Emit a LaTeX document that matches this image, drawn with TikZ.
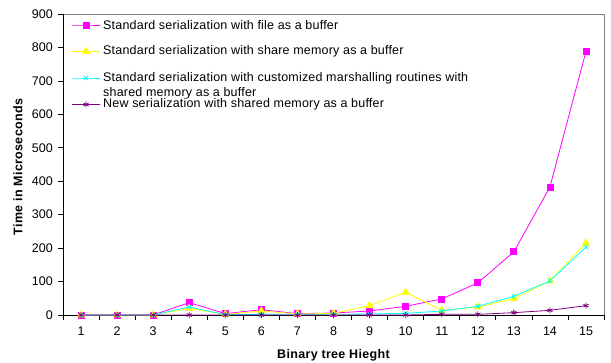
\documentclass[tikz,border=0pt]{standalone}
\usepackage{fontspec}
\setmainfont{Liberation Sans}
\usetikzlibrary{plotmarks}
\definecolor{sfile}{RGB}{255,0,255}
\definecolor{sshare}{RGB}{255,255,0}
\definecolor{scustom}{RGB}{0,255,255}
\definecolor{snew}{RGB}{128,0,128}
\tikzset{
  ticklab/.style={font=\fontsize{12.5}{15}\selectfont, inner sep=0pt},
  legtext/.style={font=\fontsize{12.5}{15}\selectfont\addfontfeature{LetterSpace=1.6}, inner sep=0pt, anchor=west, align=left},
  axtitle/.style={font=\fontsize{12.5}{15}\selectfont\bfseries\addfontfeature{LetterSpace=2.6}, inner sep=0pt},
  series/.style={line width=0.8pt, mark size=3pt, every mark/.append style={solid}},
  sqmark/.style={mark=square*},
  trimark/.style={mark=triangle*, mark size=4pt},
  xmark/.style={mark=x},
  starmark/.style={mark=asterisk},
}
\begin{document}
\begin{tikzpicture}
  \useasboundingbox[fill=white] (0,0) rectangle (611pt,362pt);
  \begin{scope}[x=36.07pt, y=0.3344pt, shift={(44.97pt,47pt)}]
    % plot area and axes
    \draw[gray, line width=0.8pt] (0.5,900) -- (15.5,900) -- (15.5,0);
    \draw[line width=0.8pt] (0.5,900) -- (0.5,0) -- (15.5,0);
    \foreach \v in {0,100,...,900} {
      \draw[line width=0.8pt] (0.5,\v) -- ++(-5pt,0);
      \node[ticklab, anchor=east] (y\v) at (0.5,\v) [xshift=-10pt] {\v};
    }
    \foreach \i in {0,...,15}
      \draw[line width=0.8pt] (\i+0.5,0) -- ++(0,-5pt);
    \foreach \i in {1,...,15}
      \node[ticklab] (x\i) at (\i,0) [yshift=-16pt] {\i};
    % the four series
    \draw[series, sfile, sqmark] plot coordinates {(1,0) (2,0) (3,0) (4,37) (5,4) (6,16) (7,4) (8,6) (9,12) (10,26) (11,48) (12,96) (13,189) (14,383) (15,789)};
    \draw[series, sshare, trimark] plot coordinates {(1,0) (2,0) (3,0) (4,20) (5,2) (6,12) (7,3) (8,5) (9,28) (10,68) (11,14) (12,24) (13,49) (14,102) (15,215)};
    \draw[series, scustom, xmark] plot coordinates {(1,0) (2,0) (3,0) (4,24) (5,1) (6,2) (7,2) (8,2) (9,3) (10,5) (11,12) (12,26) (13,56) (14,102) (15,203)};
    \draw[series, snew, starmark] plot coordinates {(1,0) (2,0) (3,0) (4,0) (5,0) (6,0) (7,0) (8,0) (9,0) (10,0) (11,2) (12,2) (13,7) (14,14) (15,28)};
  \end{scope}
  % legend
  \foreach \c/\m/\yy/\dy/\t in {sfile/sqmark/337/0/{Standard serialization with file as a buffer},
      sshare/trimark/310.5/0/{Standard serialization with share memory as a buffer},
      scustom/xmark/284/-7.5/{Standard serialization with customized marshalling routines with\\shared memory as a buffer},
      snew/starmark/257.5/0/{New serialization with shared memory as a buffer}} {
    \draw[series, \c, \m, mark indices={2}] plot coordinates {(72pt,\yy pt) (86pt,\yy pt) (100pt,\yy pt)};
    \node[legtext] (leg\c) at (103pt,\yy pt) [yshift=\dy pt] {\t};
  }
  % axis titles
  \node[axtitle, rotate=90] (ytitle) at (18pt,195pt) {Time in Microseconds};
  \node[axtitle] (xtitle) at (333.5pt,7pt) {Binary tree Hieght};
\end{tikzpicture}
\end{document}
